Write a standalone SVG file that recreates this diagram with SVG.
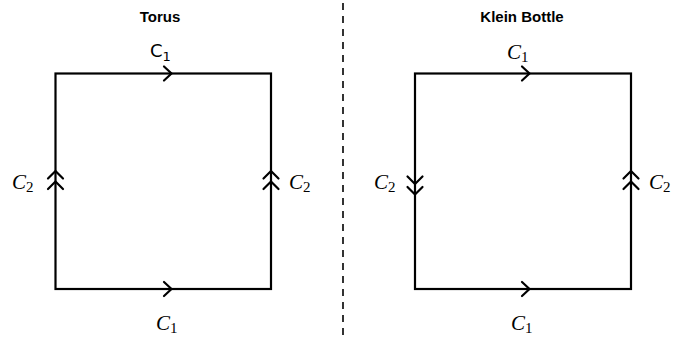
<svg xmlns="http://www.w3.org/2000/svg" width="686" height="338" viewBox="0 0 686 338">
  <style>
    .edge { fill: none; stroke: #000; stroke-width: 2.2; }
    .chev { fill: none; stroke: #000; stroke-width: 2.2; stroke-linecap: round; stroke-linejoin: miter; }
    .title { font-family: "Liberation Sans", Arial, sans-serif; font-weight: bold; font-size: 15px; text-anchor: middle; }
    .math { font-family: "Liberation Serif", "Times New Roman", serif; font-style: italic; font-size: 21px; }
    .sub { font-style: normal; font-size: 15px; }
    .sans { font-family: "DejaVu Sans", "Liberation Sans", sans-serif; font-size: 18px; }
    .sans .sub { font-size: 13px; }
    .divider { stroke: #000; stroke-width: 1.6; stroke-dasharray: 7 6; }
  </style>

  <!-- torus -->
  <g id="torus">
    <text class="title" x="160" y="22">Torus</text>
    <rect class="edge" x="55.5" y="73.5" width="215.5" height="215.5"/>
    <!-- top and bottom: single arrow to the right -->
    <polyline class="chev" points="164,66.5 171.5,73.5 164,80.5"/>
    <polyline class="chev" points="164,282 171.5,289 164,296"/>
    <!-- sides: double arrow upward -->
    <polyline class="chev" points="48,178.5 55.5,171 63,178.5"/>
    <polyline class="chev" points="48,189 55.5,181.5 63,189"/>
    <polyline class="chev" points="263.5,178.5 271,171 278.5,178.5"/>
    <polyline class="chev" points="263.5,189 271,181.5 278.5,189"/>
    <text class="sans" x="150" y="57">C<tspan class="sub" dy="4">1</tspan></text>
    <text class="math" x="156" y="330">C<tspan class="sub" dy="3">1</tspan></text>
    <text class="math" x="12" y="189">C<tspan class="sub" dy="3">2</tspan></text>
    <text class="math" x="289" y="189">C<tspan class="sub" dy="3">2</tspan></text>
  </g>

  <!-- klein bottle -->
  <g id="klein">
    <text class="title" x="522" y="22">Klein Bottle</text>
    <rect class="edge" x="415" y="73.5" width="216" height="215.5"/>
    <polyline class="chev" points="522,66.5 529.5,73.5 522,80.5"/>
    <polyline class="chev" points="522,282 529.5,289 522,296"/>
    <!-- left side: double arrow downward -->
    <polyline class="chev" points="407.5,176.5 415,184 422.5,176.5"/>
    <polyline class="chev" points="407.5,187 415,194.5 422.5,187"/>
    <!-- right side: double arrow upward -->
    <polyline class="chev" points="623.5,178.5 631,171 638.5,178.5"/>
    <polyline class="chev" points="623.5,189 631,181.5 638.5,189"/>
    <text class="math" x="507" y="59">C<tspan class="sub" dy="3">1</tspan></text>
    <text class="math" x="511" y="330">C<tspan class="sub" dy="3">1</tspan></text>
    <text class="math" x="374" y="189">C<tspan class="sub" dy="3">2</tspan></text>
    <text class="math" x="649" y="189">C<tspan class="sub" dy="3">2</tspan></text>
  </g>

  <g id="connectors">
    <line class="divider" x1="343" y1="3" x2="343" y2="336"/>
  </g>
</svg>
